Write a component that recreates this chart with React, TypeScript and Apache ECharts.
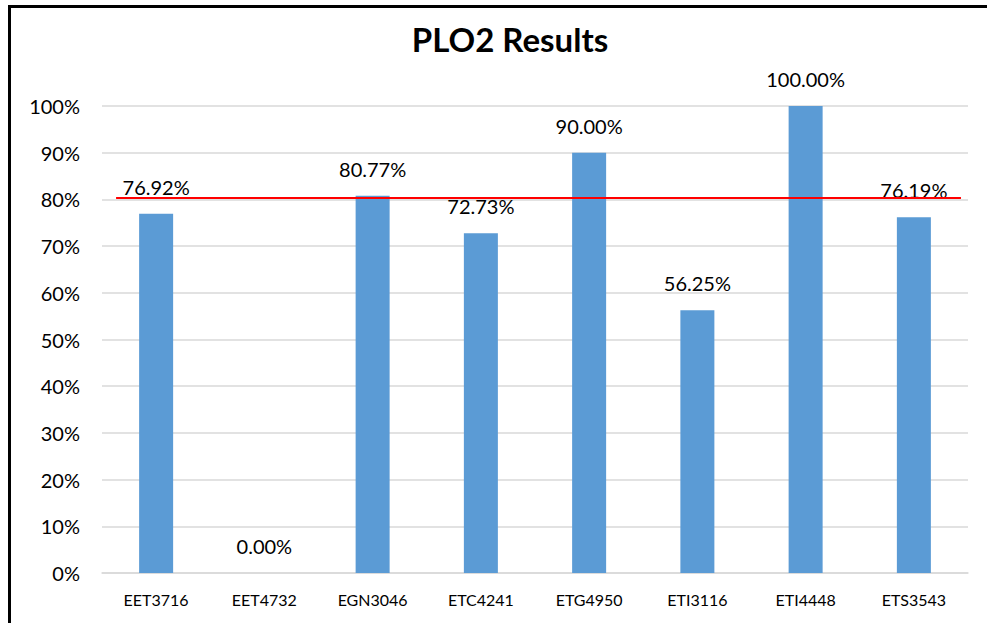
import React, { useEffect, useRef } from "react";
import * as echarts from "echarts";

const categories = ["EET3716", "EET4732", "EGN3046", "ETC4241", "ETG4950", "ETI3116", "ETI4448", "ETS3543"];
const values = [76.92, 0.0, 80.77, 72.73, 90.0, 56.25, 100.0, 76.19];
const targetLine = [[0.13, 80.3], [7.935, 80.3]];
const yTicks = { min: 0, max: 100, interval: 10 };

export default function App() {
  const ref = useRef<HTMLDivElement>(null);
  useEffect(() => {
    if (!ref.current) return;
    const chart = echarts.init(ref.current, null, { renderer: "svg" });
    const font = "Lato, 'Open Sans', sans-serif";
    chart.setOption({
      animation: false,
      textStyle: { fontFamily: font },
      title: {
        text: "PLO2 Results",
        left: 505,
        top: 17,
        textAlign: "center",
        textStyle: { fontSize: 33, fontWeight: "bold", color: "#000", fontFamily: font },
      },
      grid: { left: 102, right: 19, top: 106, bottom: 50, containLabel: false },
      xAxis: [
        {
          type: "category",
          data: categories,
          axisLine: { show: true, lineStyle: { color: "#d9d9d9", width: 1.5 } },
          axisTick: { show: false },
          axisLabel: { fontSize: 16, color: "#000", margin: 18, fontFamily: font },
        },
        { type: "value", min: 0, max: 8, show: false, position: "top" },
      ],
      yAxis: {
        type: "value",
        min: yTicks.min,
        max: yTicks.max,
        interval: yTicks.interval,
        axisLine: { show: false },
        axisTick: { show: false },
        splitLine: { lineStyle: { color: "#d9d9d9", width: 1.5 } },
        axisLabel: { fontSize: 20, color: "#000", margin: 22, formatter: "{value}%", fontFamily: font },
      },
      series: [
        {
          type: "bar",
          data: values,
          barWidth: 34,
          itemStyle: { color: "#5b9bd5" },
          z: 2,
          label: {
            show: true,
            position: "top",
            distance: 17,
            fontSize: 20,
            color: "#000",
            fontFamily: font,
            formatter: (p: any) => p.value.toFixed(2) + "%",
          },
        },
        {
          type: "line",
          xAxisIndex: 1,
          data: targetLine,
          symbol: "none",
          lineStyle: { color: "#ff0000", width: 2 },
          z: 10,
          zlevel: 1,
        },
      ],
    });
    return () => chart.dispose();
  }, []);
  return (
    <div style={{ position: "fixed", left: 0, top: 0, width: 987, height: 623, background: "#fff", overflow: "hidden" }}>
      <div ref={ref} style={{ position: "absolute", left: 0, top: 0, width: 987, height: 623 }} />
      <div
        style={{
          position: "absolute",
          left: 8,
          top: 5,
          width: 1100,
          height: 700,
          border: "3px solid #000",
          pointerEvents: "none",
        }}
      />
    </div>
  );
}
